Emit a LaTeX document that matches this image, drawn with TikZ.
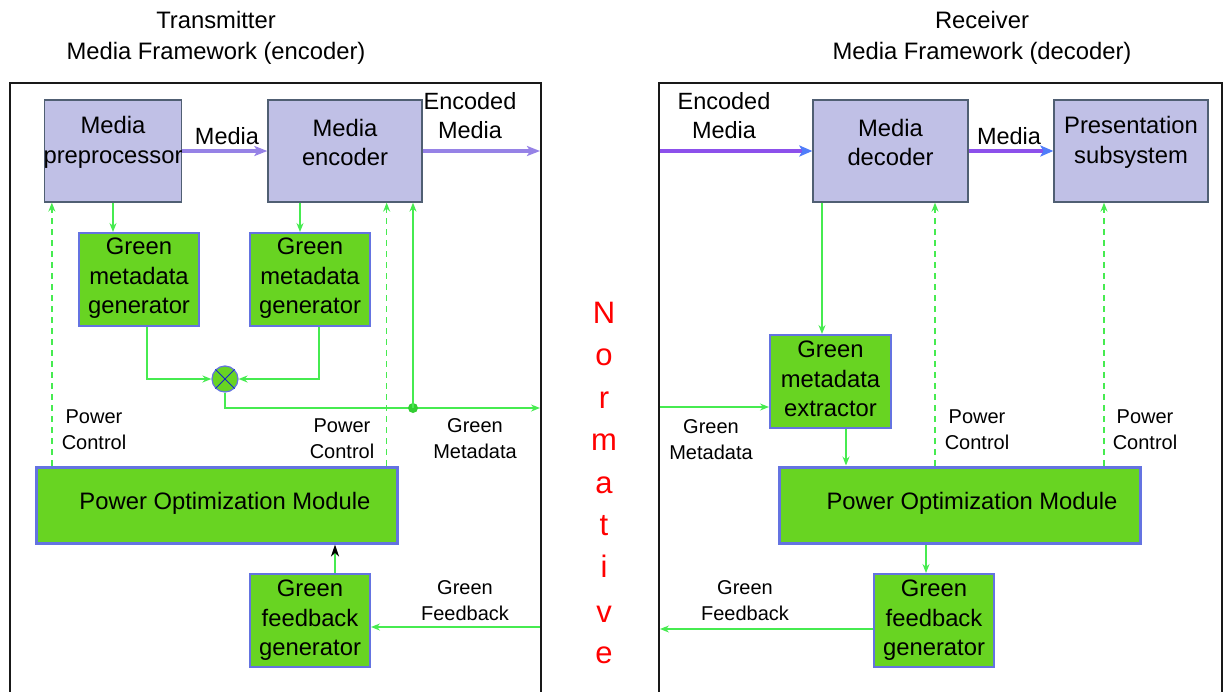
\documentclass[tikz,border=0pt]{standalone}
\usepackage{fontspec}
\setmainfont{Liberation Sans}
\usetikzlibrary{arrows.meta}
\definecolor{lav}{RGB}{192,192,230}
\definecolor{lavborder}{RGB}{80,95,115}
\definecolor{gfill}{RGB}{104,212,34}
\definecolor{gborder}{RGB}{100,115,225}
\definecolor{garrow}{RGB}{70,235,80}
\definecolor{marrow}{RGB}{150,130,230}
\definecolor{marrowR}{RGB}{140,80,235}
\definecolor{headR}{RGB}{80,125,250}
\definecolor{framec}{RGB}{25,25,25}
\definecolor{xblue}{RGB}{20,40,200}
\definecolor{dotg}{RGB}{50,205,50}
\begin{document}
\begin{tikzpicture}[x=1pt,y=-1pt,
 mediabox/.style={draw=lavborder,line width=1.3pt,fill=lav,inner sep=0pt},
 greenbox/.style={draw=gborder,line width=2pt,fill=gfill,inner sep=0pt,minimum width=120pt,minimum height=93pt},
 pombox/.style={draw=gborder,line width=3pt,fill=gfill,inner sep=0pt,minimum width=361pt,minimum height=76pt},
 boxtext/.style={font=\fontsize{23.8}{29.5}\selectfont,align=center,inner sep=0pt},
 lbl/.style={font=\fontsize{20}{26}\selectfont,align=center,inner sep=0pt},
 mlbl/.style={font=\fontsize{23.5}{29}\selectfont,align=center,inner sep=0pt},
 ttl/.style={font=\fontsize{23.8}{31}\selectfont,align=center,inner sep=0pt},
 frame/.style={draw=framec,line width=1.8pt},
 garr/.style={draw=garrow,line width=1.6pt,-{Stealth[length=9pt,width=7pt,inset=3pt]}},
 gdash/.style={garr,dash pattern=on 6pt off 5pt},
 marr/.style={draw=marrow,line width=3.2pt,-{Stealth[length=13pt,width=10pt,inset=3pt]}},
 marrR/.style={draw=marrowR,line width=3.2pt,-{Stealth[length=13pt,width=11pt,inset=3pt,color=headR]}},
 normletter/.style={font=\fontsize{31}{31}\selectfont,text=red,inner sep=0pt,anchor=base},
 jdot/.style={circle,fill=dotg,inner sep=0pt,minimum size=10pt},
 mixer/.style={circle,draw=gborder,line width=1.2pt,fill=gfill,inner sep=0pt,minimum size=26pt}
]
\useasboundingbox (0,0) rectangle (1226,691);

% titles
\node[ttl] (t1) at (216,37.5) {Transmitter\\Media Framework (encoder)};
\node[ttl] (t2) at (982,37.5) {Receiver\\Media Framework (decoder)};

% frames
\draw[frame] (10,695) -- (10,83) -- (541,83) -- (541,695);
\draw[frame] (659,695) -- (659,83) -- (1222,83) -- (1222,695);

% ---------- transmitter ----------
\node[mediabox,minimum width=137pt,minimum height=102pt] (pre) at (113,151) {};
\node[boxtext] (pre-t) at ([yshift=8.5pt]pre.center) {Media\\preprocessor};
\node[mediabox,minimum width=154pt,minimum height=102pt] (enc) at (345,151) {};
\node[boxtext] (enc-t) at ([yshift=8.5pt]enc.center) {Media\\encoder};
\node[greenbox] (gen1) at (139,279.5) {};
\node[boxtext] (gen1-t) at ([yshift=1pt]gen1.center) {Green\\metadata\\generator};
\node[greenbox] (gen2) at (310,279.5) {};
\node[boxtext] (gen2-t) at ([yshift=1pt]gen2.center) {Green\\metadata\\generator};
\node[mixer] (mix) at (225,379) {};
\draw[xblue,line width=1pt] (mix.north west) -- (mix.south east) (mix.north east) -- (mix.south west);
\node[pombox] (pom1) at (216.5,505) {};
\node[boxtext] (pom1-t) at ([xshift=8.5pt,yshift=2pt]pom1.center) {Power Optimization Module};
\node[greenbox] (fb1) at (310,620.5) {};
\node[boxtext] (fb1-t) at ([yshift=0pt]fb1.center) {Green\\feedback\\generator};

\coordinate (encout) at (540,151);
\coordinate (mdout) at (540,408);
\coordinate (fbin) at (540,627);

\draw[marr] (pre.east) -- (enc.west);
\draw[marr] (enc.east) -- (encout);
\draw[garr] (pre.south) -- (pre.south |- gen1.north);
\draw[garr] ([xshift=-45pt]enc.south) -- ([xshift=-10pt]gen2.north);
\draw[garr] ([xshift=8pt]gen1.south) |- (mix.west);
\draw[garr] ([xshift=9pt]gen2.south) |- (mix.east);
\draw[garr] (mix.south) |- (mdout);
\node[jdot] (j) at (413,408) {};
\draw[garr] (j.center) -- (j.center |- enc.south);
\draw[gdash] ([xshift=8pt]pre.south west |- pom1.north) -- ([xshift=8pt]pre.south west);
\draw[gdash] ([xshift=-36pt]enc.south east |- pom1.north) -- ([xshift=-36pt]enc.south east);
\draw[draw=garrow,line width=1.6pt,-{Stealth[length=12pt,width=8pt,inset=3.5pt,color=black]}] ([xshift=25pt]fb1.north) -- ([xshift=25pt]fb1.north |- pom1.south);
\draw[garr] (fbin) -- (fbin -| fb1.east);

\node[mlbl] (l-media1) at (227,136) {Media};
\node[mlbl] (l-enc1) at (470,115.5) {Encoded\\Media};
\node[lbl] (l-pc1) at (94,430) {Power\\Control};
\node[lbl] (l-pc2) at (342,439) {Power\\Control};
\node[lbl] (l-gm1) at (475,439) {Green\\Metadata};
\node[lbl] (l-gf1) at (465,601) {Green\\Feedback};

% ---------- receiver ----------
\node[mediabox,minimum width=155pt,minimum height=102pt] (dec) at (890.5,151) {};
\node[boxtext] (dec-t) at ([yshift=8.5pt]dec.center) {Media\\decoder};
\node[mediabox,minimum width=154pt,minimum height=102pt] (pres) at (1131,151) {};
\node[boxtext] (pres-t) at ([yshift=8.5pt]pres.center) {Presentation\\subsystem};
\node[greenbox,minimum width=121pt] (ext) at (830.5,381.5) {};
\node[boxtext] (ext-t) at ([yshift=2.5pt]ext.center) {Green\\metadata\\extractor};
\node[pombox] (pom2) at (959.5,505) {};
\node[boxtext] (pom2-t) at ([xshift=12.5pt,yshift=2pt]pom2.center) {Power Optimization Module};
\node[greenbox] (fb2) at (934,620.5) {};
\node[boxtext] (fb2-t) at ([yshift=0pt]fb2.center) {Green\\feedback\\generator};

\coordinate (encin) at (660,151);
\coordinate (mdin) at (660,407);
\coordinate (fbout) at (660,629);

\draw[marrR] (encin) -- (dec.west);
\draw[marrR] (dec.east) -- (pres.west);
\draw[garr,line width=1.2pt] ([xshift=-68.5pt]dec.south) -- ([xshift=-68.5pt]dec.south |- ext.north);
\draw[garr,line width=1.2pt] (mdin) -- (mdin -| ext.west);
\draw[garr,line width=1.2pt] ([xshift=15.5pt]ext.south) -- ([xshift=15.5pt]ext.south |- pom2.north);
\draw[gdash] ([xshift=44.5pt]dec.south |- pom2.north) -- ([xshift=44.5pt]dec.south);
\draw[gdash] ([xshift=-27pt]pres.south |- pom2.north) -- ([xshift=-27pt]pres.south);
\draw[garr,line width=1.2pt] ([xshift=-33.5pt]pom2.south) -- ([xshift=-33.5pt]pom2.south |- fb2.north);
\draw[garr] (fb2.west |- fbout) -- (fbout);

\node[mlbl] (l-enc2) at (724,115.5) {Encoded\\Media};
\node[mlbl] (l-media2) at (1009,136) {Media};
\node[lbl] (l-gm2) at (711,439.5) {Green\\Metadata};
\node[lbl] (l-pc3) at (977,430) {Power\\Control};
\node[lbl] (l-pc4) at (1145,430) {Power\\Control};
\node[lbl] (l-gf2) at (745,601) {Green\\Feedback};

% Normative
\foreach \ch/\yy [count=\i] in {N/323,o/365,r/408,m/450,a/493,t/535,i/577,v/622,e/663}
  \node[normletter] (norm\i) at (604,\yy) {\ch};
\end{tikzpicture}
\end{document}
